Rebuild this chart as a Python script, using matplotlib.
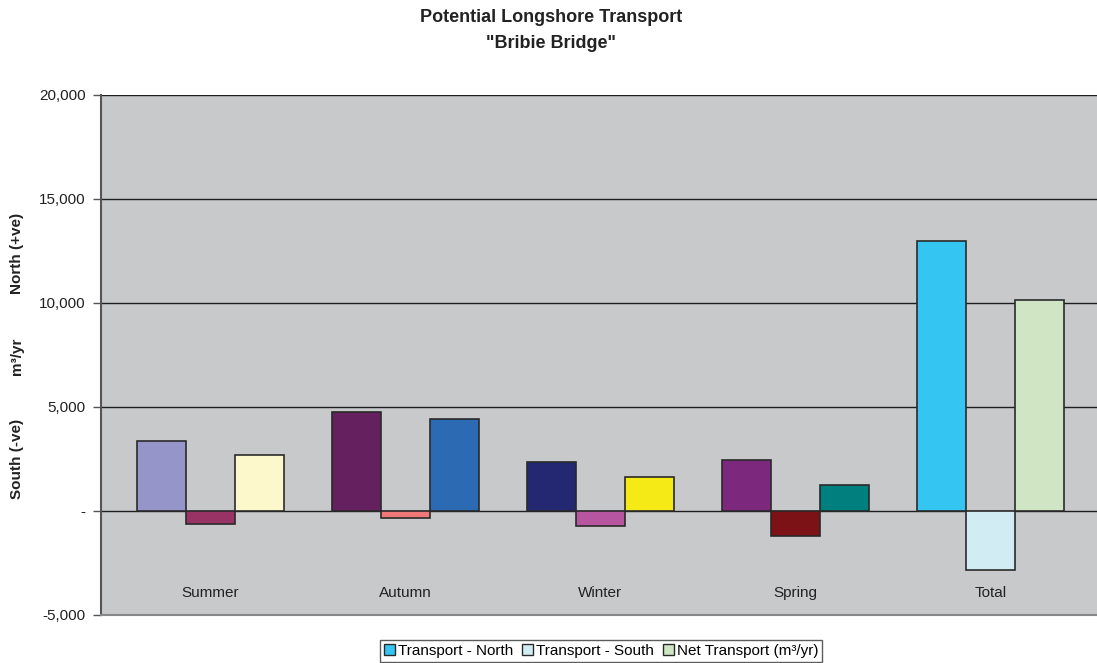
import matplotlib
matplotlib.use("Agg")
import matplotlib.pyplot as plt
import matplotlib.patches as mpatches
import numpy as np

plt.rcParams["font.family"] = ["Liberation Sans", "DejaVu Sans"]

seasons = ["Summer", "Autumn", "Winter", "Spring", "Total"]
transport_north = [3370, 4760, 2360, 2450, 12980]
transport_south = [-630, -330, -710, -1190, -2850]
net_transport = [2700, 4420, 1640, 1250, 10140]

# Excel-style "vary colours by point": every bar gets its own fill
north_colors = ["#9595c9", "#64205f", "#242772", "#7c287c", "#35c5f3"]
south_colors = ["#993366", "#f07878", "#b855a0", "#7d1216", "#d2ecf3"]
net_colors = ["#fcf8cc", "#2c6ab4", "#f5e916", "#007f7f", "#cfe5c3"]

series_names = ["Transport - North", "Transport - South", "Net Transport (m³/yr)"]
yticks = [-5000, 0, 5000, 10000, 15000, 20000]
ytick_labels = ["-5,000", "-", "5,000", "10,000", "15,000", "20,000"]

W, H = 1097, 663
fig = plt.figure(figsize=(W / 100, H / 100), dpi=100)
fig.patch.set_facecolor("white")
ax = fig.add_axes([101 / W, 1 - 615 / H, 1 - 101 / W, (615 - 95) / H])
ax.set_facecolor("#c8c9cb")

x = np.arange(len(seasons))
bw = 0.2514
edge = dict(edgecolor="#2a2a2a", linewidth=1.2, zorder=3)
ax.bar(x - bw, transport_north, bw, color=north_colors, **edge)
ax.bar(x, transport_south, bw, color=south_colors, **edge)
ax.bar(x + bw, net_transport, bw, color=net_colors, **edge)

ax.set_ylim(-5000, 20000)
ax.set_xlim(-0.562, 4.548)
ax.set_yticks(yticks)
ax.set_yticklabels(ytick_labels, fontsize=11, color="#222222")
ax.set_xticks([])
for y in yticks[1:]:
    ax.axhline(y, color="#1e1e1e", linewidth=1.0, zorder=1)
ax.tick_params(axis="y", direction="out", length=6, width=1, color="#555555", pad=5)

for s in ["top", "right"]:
    ax.spines[s].set_visible(False)
ax.spines["left"].set_color("#555555")
ax.spines["left"].set_linewidth(1.5)
ax.spines["bottom"].set_color("#888888")
ax.spines["bottom"].set_linewidth(1.5)

# category names sit inside the plot, just above the bottom edge
for xi, name in zip(x, seasons):
    ax.text(xi, -3950, name, ha="center", va="center", fontsize=11, color="#222222")

# three-part vertical axis title
for label, ypix in [("South (-ve)", 459), ("m³/yr", 356), ("North (+ve)", 253)]:
    fig.text(17 / W, 1 - ypix / H, label, rotation=90, ha="center", va="center",
             fontsize=11, fontweight="bold", color="#222222")

fig.text(551 / W, 1 - 18 / H, "Potential Longshore Transport", ha="center", va="center",
         fontsize=13, fontweight="bold", color="#222222")
fig.text(551 / W, 1 - 43 / H, '"Bribie Bridge"', ha="center", va="center",
         fontsize=13, fontweight="bold", color="#222222")

handles = [mpatches.Patch(facecolor=c, edgecolor="#2a2a2a", linewidth=1.0, label=n)
           for c, n in zip([north_colors[-1], south_colors[-1], net_colors[-1]], series_names)]
fig.legend(handles=handles, loc="upper center", bbox_to_anchor=(601 / W, 1 - 640 / H),
           ncol=3, fontsize=11, frameon=True, fancybox=False, edgecolor="#333333",
           handlelength=0.7, handleheight=0.7, handletextpad=0.2, columnspacing=0.6,
           borderpad=0.25, borderaxespad=0)

fig.savefig("out.png", dpi=100, facecolor="white")
